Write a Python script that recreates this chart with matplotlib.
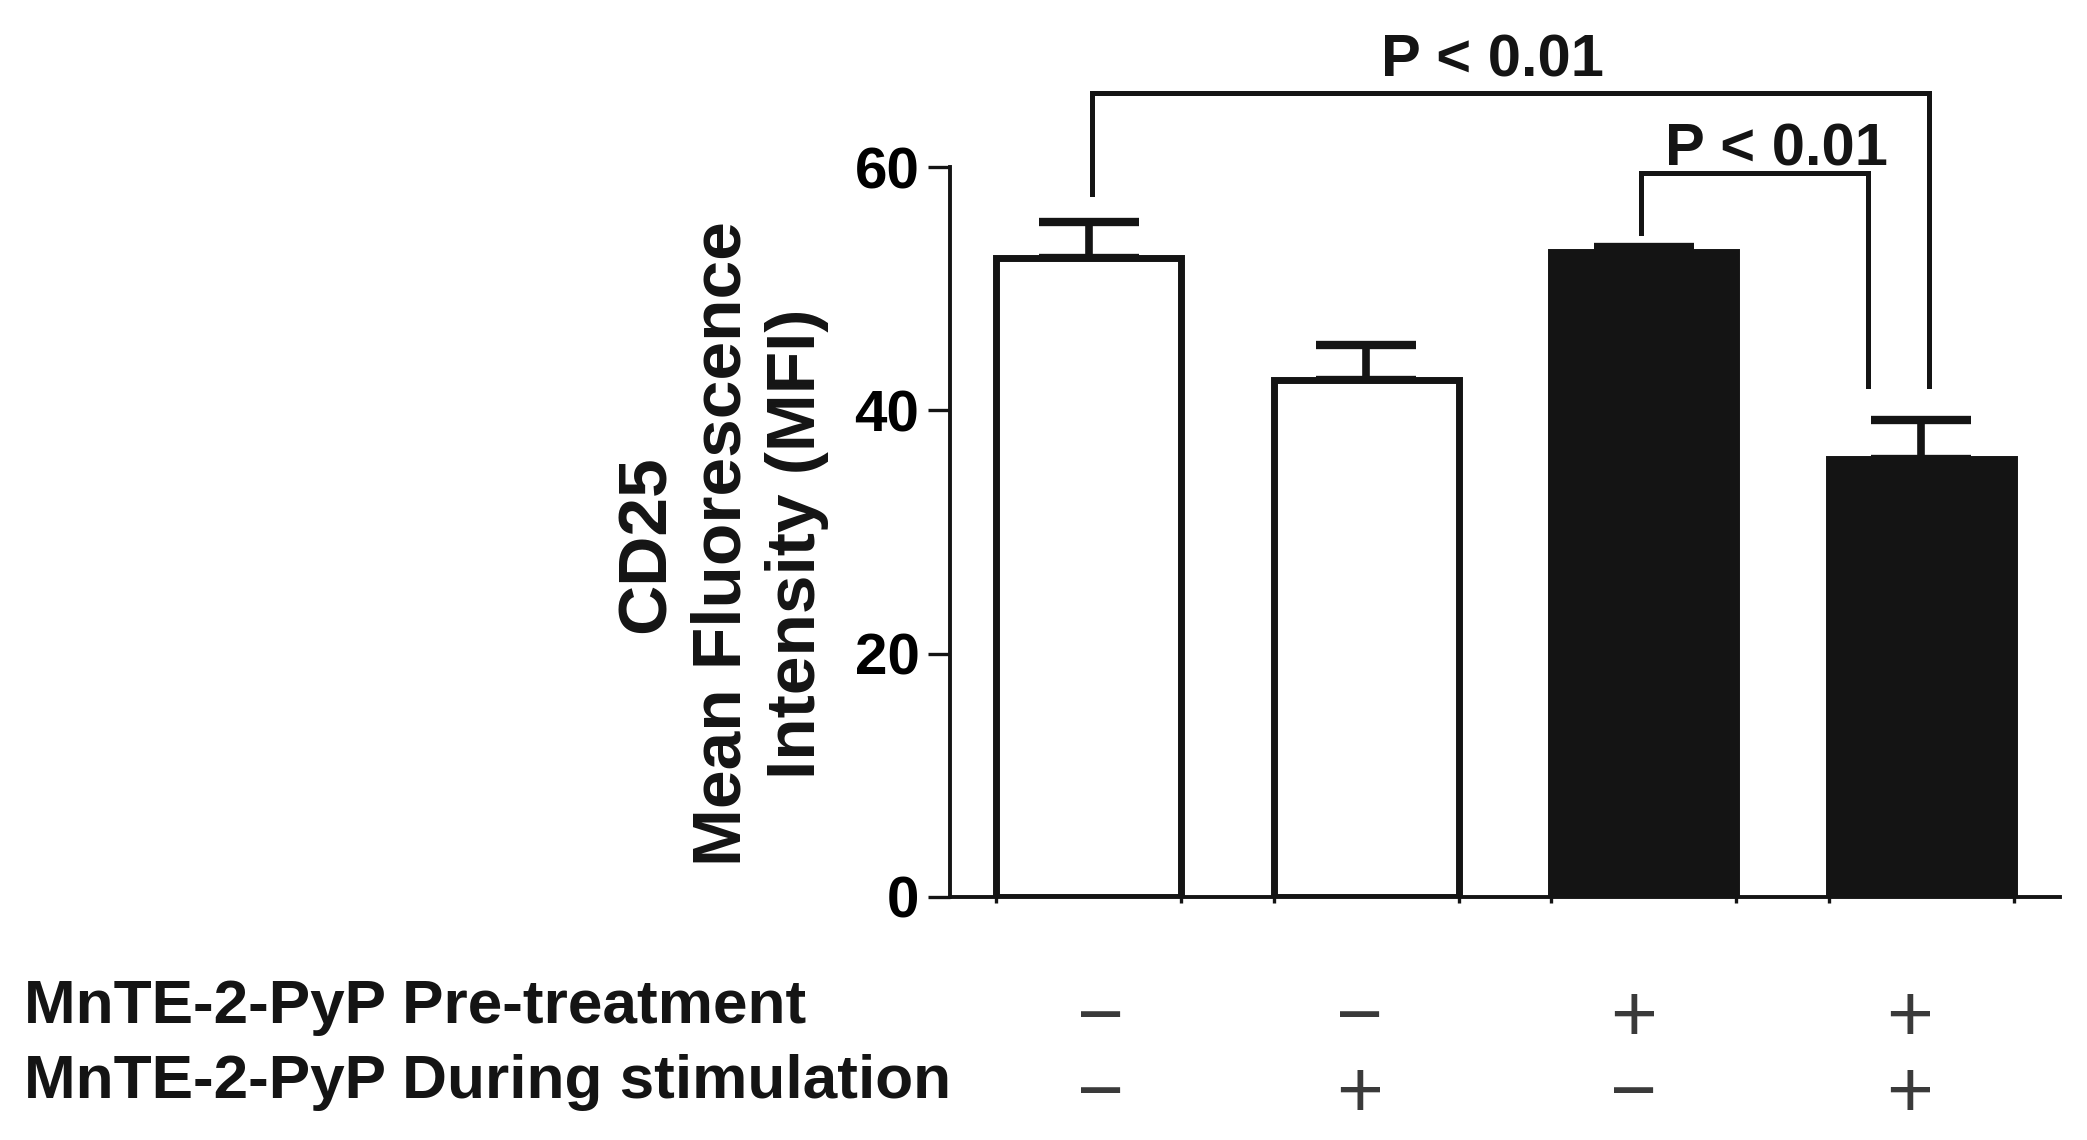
import numpy as np
import matplotlib
matplotlib.use("Agg")
import matplotlib.pyplot as plt
import matplotlib.transforms as mtransforms

# ====== Data ======
groups = ["ctrl", "during", "pre", "pre+during"]
mfi = [52.5, 42.5, 53.0, 36.0]
sem = [3.0, 2.9, 0.4, 3.2]
fills = ["white", "white", "#141414", "#141414"]

row_labels = ["MnTE-2-PyP Pre-treatment", "MnTE-2-PyP During stimulation"]
pre_treat = ["\u2212", "\u2212", "+", "+"]
during_stim = ["\u2212", "+", "\u2212", "+"]

yticks = [0, 20, 40, 60]
p_text = "P < 0.01"

plt.rcParams['font.family'] = ['Liberation Sans', 'DejaVu Sans']
INK = "#141414"

fig = plt.figure(figsize=(20.87, 11.40), dpi=100)
ax = fig.add_axes([0.4552, 0.2132, 0.9870 - 0.4552, 0.8535 - 0.2132])

x = np.arange(len(groups))
width = 0.667
ax.bar(x, mfi, width=width, color=fills, edgecolor=INK, linewidth=5, zorder=2)
ax.errorbar(x, mfi, yerr=[np.zeros(len(sem)), sem], fmt="none", ecolor=INK,
            elinewidth=5.5, capsize=36, capthick=6, zorder=1)

ax.set_xlim(-0.5, 3.5)
ax.set_ylim(0, 60)
ax.set_yticks(yticks)
ax.set_yticklabels([str(t) for t in yticks], fontsize=42, fontweight="bold")
ax.tick_params(axis="y", length=16, width=2.4, pad=6, color=INK)

# little marks under the bar edges
edges = np.sort(np.concatenate([x - width / 2, x + width / 2]))
ax.set_xticks(edges)
ax.set_xticklabels([])
ax.tick_params(axis="x", length=4, width=2.4, color=INK)

for side in ["top", "right"]:
    ax.spines[side].set_visible(False)
for side in ["left", "bottom"]:
    ax.spines[side].set_linewidth(2.8)
    ax.spines[side].set_color(INK)

# ====== Significance brackets ======
def bracket(x1, x2, y1, y2, top):
    ax.plot([x1, x1, x2, x2], [y1, top, top, y2], color=INK, lw=3.6,
            clip_on=False, solid_joinstyle="miter")

bracket(0.01, 3.03, 57.8, 42.0, 66.1)
bracket(1.99, 2.81, 54.6, 42.0, 59.5)
ax.text(1.455, 67.4, p_text, ha="center", va="baseline", fontsize=43,
        fontweight="bold", color=INK, clip_on=False)
ax.text(2.48, 60.1, p_text, ha="center", va="baseline", fontsize=43,
        fontweight="bold", color=INK, clip_on=False)

# ====== Y label ======
fig.text(0.346, 0.5230, "CD25\nMean Fluorescence\nIntensity (MFI)",
         rotation=90, ha="center", va="center", multialignment="center",
         fontsize=50, fontweight="bold", linespacing=1.22, color=INK)

# ====== Treatment rows ======
fig.text(24 / 2087, 0.1026, row_labels[0], ha="left", va="baseline",
         fontsize=44.7, fontweight="bold", color=INK)
fig.text(24 / 2087, 0.0368, row_labels[1], ha="left", va="baseline",
         fontsize=44.7, fontweight="bold", color=INK)

sign_pos = [0.043, 0.975, 1.964, 2.957]
trans = mtransforms.blended_transform_factory(ax.transData, fig.transFigure)
for px, s1, s2 in zip(sign_pos, pre_treat, during_stim):
    ax.text(px, 0.0868, s1, transform=trans, ha="center", va="baseline",
            fontsize=58, color="#3a3a3a", clip_on=False)
    ax.text(px, 0.0202, s2, transform=trans, ha="center", va="baseline",
            fontsize=58, color="#3a3a3a", clip_on=False)

fig.savefig("out.png", dpi=100, facecolor="white")
